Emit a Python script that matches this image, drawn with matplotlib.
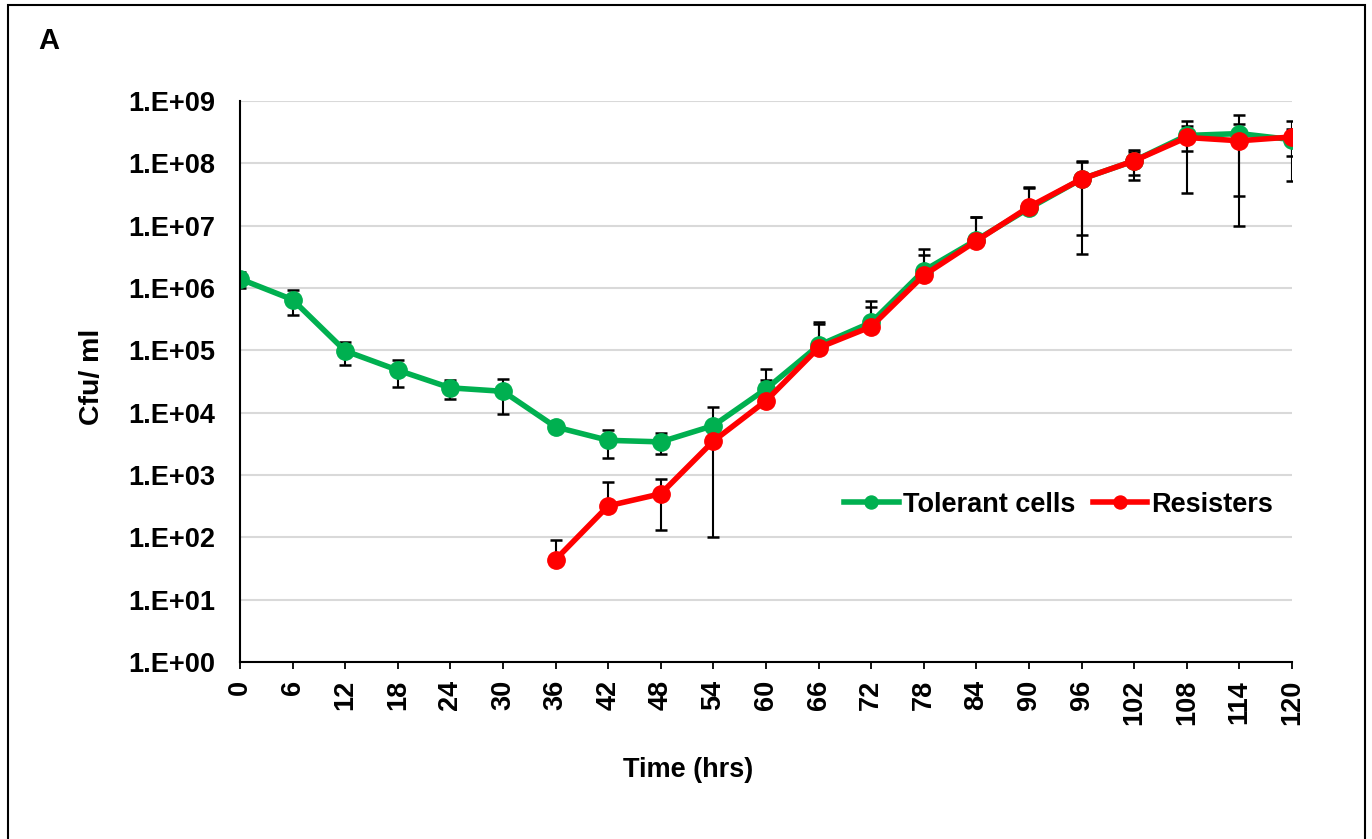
import matplotlib.pyplot as plt
import numpy as np
from matplotlib.patches import Rectangle
from matplotlib.ticker import FixedLocator, FuncFormatter

plt.rcParams['font.family'] = ['Liberation Sans', 'DejaVu Sans']
plt.rcParams['font.weight'] = 'bold'

# sampling times (hrs)
hours = [0, 6, 12, 18, 24, 30, 36, 42, 48, 54, 60, 66, 72, 78, 84, 90, 96, 102, 108, 114, 120]

# tolerant cells, mean cfu/ml and SD
tolerant = [1.4e6, 6.5e5, 9.8e4, 4.8e4, 2.5e4, 2.2e4, 5.9e3, 3.6e3, 3.4e3, 6.2e3, 2.4e4,
            1.2e5, 2.8e5, 1.9e6, 5.9e6, 1.9e7, 5.6e7, 1.1e8, 2.8e8, 3.0e8, 2.4e8]
tolerant_sd = [4.0e5, 2.8e5, 4.0e4, 2.2e4, 8.2e3, 1.25e4, 8e2, 1.75e3, 1.25e3, 6.1e3, 2.7e4,
               1.6e5, 3.5e5, 2.3e6, 8.1e6, 2.2e7, 5.25e7, 5.5e7, 1.2e8, 2.9e8, 1.1e8]

# resisters only show up from 36 h
res_hours = [36, 42, 48, 54, 60, 66, 72, 78, 84, 90, 96, 102, 108, 114, 120]
resisters = [44, 3.2e2, 5.0e2, 3.5e3, 1.55e4, 1.1e5, 2.4e5, 1.6e6, 5.7e6, 2.0e7, 5.6e7,
             1.1e8, 2.6e8, 2.3e8, 2.65e8]
resisters_sd = [45, 4.4e2, 3.7e2, 6e2, 1.85e4, 1.5e5, 2.5e5, 1.8e6, 8e6, 2.05e7, 4.9e7,
                4.4e7, 2.26e8, 2.0e8, 2.12e8]

GREEN = '#00b050'
RED = '#ff0000'
FS = 19.5


def sd_bars(ax, x, mean, sd):
    # on a log axis the part of a bar going below zero is left out
    x = np.asarray(x, dtype=float)
    mean = np.asarray(mean)
    sd = np.asarray(sd)
    top = mean + sd
    low_ok = mean - sd > 0
    bottom = np.where(low_ok, mean - sd, mean)
    ax.vlines(x, bottom, top, color='black', lw=1.5, zorder=2)
    ax.plot(x, top, ls='none', marker='_', ms=9, mew=1.8, color='black', zorder=2)
    ax.plot(x[low_ok], bottom[low_ok], ls='none', marker='_', ms=9, mew=1.8,
            color='black', zorder=2)


fig = plt.figure(figsize=(13.72, 8.39), dpi=100)
ax = fig.add_axes([240 / 1372, 1 - 662 / 839, 1052 / 1372, 561 / 839])

sd_bars(ax, hours, tolerant, tolerant_sd)
sd_bars(ax, res_hours, resisters, resisters_sd)

ax.plot(hours, tolerant, color=GREEN, lw=4.0, marker='o', ms=12.5,
        label='Tolerant cells', zorder=3)
ax.plot(res_hours, resisters, color=RED, lw=4.0, marker='o', ms=12.5,
        label='Resisters', zorder=4)

ax.set_yscale('log')
ax.set_ylim(1, 1e9)
ax.set_xlim(0, 120)

ax.yaxis.set_major_locator(FixedLocator([10.0 ** k for k in range(10)]))
ax.yaxis.set_minor_locator(FixedLocator([]))
ax.yaxis.set_major_formatter(FuncFormatter(lambda v, p: '1.E+%02d' % round(np.log10(v))))
ax.set_xticks(hours)
ax.set_xticklabels([str(h) for h in hours], rotation=90)

ax.tick_params(axis='y', length=0, pad=18, labelsize=FS)
ax.tick_params(axis='x', length=5, width=1.3, pad=8, labelsize=FS, direction='out')

ax.grid(axis='y', color='#d9d9d9', lw=1.5)
ax.set_axisbelow(True)
for side in ['top', 'right']:
    ax.spines[side].set_visible(False)
for side in ['left', 'bottom']:
    ax.spines[side].set_linewidth(1.5)
    ax.spines[side].set_zorder(5)

ax.set_ylabel('Cfu/ ml', fontsize=20.5, fontweight='bold')
ax.yaxis.set_label_coords(-0.128, 0.508)
ax.set_xlabel('Time (hrs)', fontsize=FS, fontweight='bold')
ax.xaxis.set_label_coords(0.426, -0.169)

ax.legend(loc='center right', bbox_to_anchor=(0.9945, 0.28), ncol=2, frameon=False,
          fontsize=FS, handlelength=2.0, handletextpad=0.15, columnspacing=0.65,
          markerscale=0.75, borderpad=0)

fig.text(38 / 1372, 1 - 49 / 839, 'A', fontsize=21, fontweight='bold', va='baseline')

# frame round the panel
fig.add_artist(Rectangle((8 / 1372, -0.05), 1357 / 1372, 1.05 - 5 / 839,
                         transform=fig.transFigure, fill=False, lw=1.5, ec='black'))

fig.savefig('out.png', dpi=100)
